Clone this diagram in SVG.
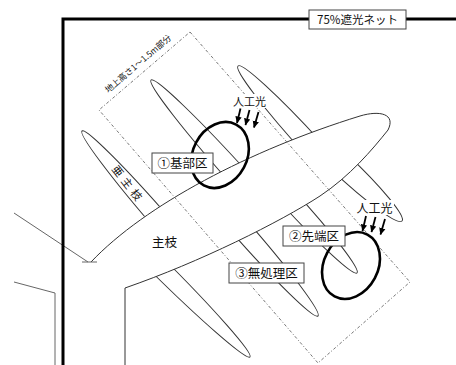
<svg xmlns="http://www.w3.org/2000/svg" width="456" height="365" viewBox="0 0 456 365">
  <defs>
    <marker id="ah" markerUnits="userSpaceOnUse" markerWidth="7" markerHeight="7" refX="6.5" refY="3.5" orient="auto">
      <path d="M0,0.3 L7,3.5 L0,6.7 z" fill="#000"/>
    </marker>
  </defs>
  <style>
    .twig{fill:none;stroke:#333;stroke-width:1}
    .edge{fill:none;stroke:#333;stroke-width:1}
    .thin{fill:none;stroke:#666;stroke-width:1}
    .zone{fill:none;stroke:#666;stroke-width:0.9;stroke-dasharray:3 2 1 2}
    .ring{fill:none;stroke:#000;stroke-width:2.6}
    .box{fill:#fff;stroke:#444;stroke-width:1}
    .bg{fill:#fff}
    .t{font-family:"Noto Sans CJK JP","Noto Sans",sans-serif;fill:#111}
    .ray{stroke:#000;stroke-width:1.8;marker-end:url(#ah)}
  </style>

  <!-- lateral shoots (half-ellipses, base hidden under the main limb) -->
  <g id="shoots">
    <g id="shoot-sub-main" transform="translate(82,131) rotate(49)"><path class="twig" d="M125,-9 A125,9 0 0 0 0,0 A125,9 0 0 0 125,9"/></g>
    <g id="shoot-u2" transform="translate(151,80) rotate(48)"><path class="twig" d="M140,-10 A140,10 0 0 0 0,0 A140,10 0 0 0 140,10"/></g>
    <g id="shoot-u3" transform="translate(238,66) rotate(47.6)"><path class="twig" d="M112,-10 A112,10 0 0 0 0,0 A112,10 0 0 0 112,10"/></g>
    <g id="shoot-l1" transform="translate(250,357) rotate(224.8)"><path class="twig" d="M135,-9 A135,9 0 0 0 0,0 A135,9 0 0 0 135,9"/></g>
    <g id="shoot-l2" transform="translate(318,316) rotate(228.7)"><path class="twig" d="M122,-9.5 A122,9.5 0 0 0 0,0 A122,9.5 0 0 0 122,9.5"/></g>
    <g id="shoot-l3" transform="translate(357,273) rotate(227.6)"><path class="twig" d="M102,-9 A102,9 0 0 0 0,0 A102,9 0 0 0 102,9"/></g>
    <g id="shoot-l4" transform="translate(402,221) rotate(223.3)"><path class="twig" d="M86,-11 A86,11 0 0 0 0,0 A86,11 0 0 0 86,11"/></g>
  </g>

  <!-- main limb with trunk and left limb -->
  <g id="main-limb">
    <path fill="#fff" d="M90,262 C145,205 250,150 360,116 C380,110 396,114 388,130 C372,150 350,176 320,196 C280,222 200,262 125,288 L125,365 L55,365 L55,293 L14,282 L14,213 Z"/>
    <path class="edge" d="M91,262 C145,205 250,150 360,116 C380,110 396,114 388,130 C372,150 350,176 320,196 C280,222 200,262 125,288 V365"/>
    <path class="thin" d="M14,213 L88,262"/>
    <path class="thin" d="M82,262 H97" stroke="#888"/>
    <path class="thin" d="M14,282 L55,293 V365"/>
  </g>

  <!-- 1.0-1.5 m height band -->
  <g id="zone">
    <path class="zone" d="M190,32 L410,282 L318,363 L99,110 Z"/>
    <text class="t" font-size="8.5" text-anchor="middle" transform="translate(140,66) rotate(-40.6)">地上高さ1～1.5m部分</text>
  </g>

  <!-- shade-net frame -->
  <g id="frame">
    <path d="M63,365 V19 H456" fill="none" stroke="#000" stroke-width="3"/>
  </g>
  <g id="net-label">
    <rect class="box" x="309" y="10" width="97" height="19"/>
    <text class="t" x="357.5" y="24" font-size="11.5" text-anchor="middle">75%遮光ネット</text>
  </g>

  <!-- lit zones -->
  <g id="ring-base"><ellipse class="ring" cx="220" cy="155" rx="27" ry="34.5" transform="rotate(28 220 155)"/></g>
  <g id="ring-tip"><ellipse class="ring" cx="351" cy="265.5" rx="27" ry="35" transform="rotate(28 351 265.5)"/></g>

  <!-- labels -->
  <g id="label-base">
    <rect class="box" x="152" y="153" width="61" height="20"/>
    <text class="t" x="182.5" y="168" font-size="12.5" text-anchor="middle">①基部区</text>
  </g>
  <g id="label-tip">
    <rect class="box" x="283" y="226" width="62" height="20"/>
    <text class="t" x="314" y="241" font-size="12.5" text-anchor="middle">②先端区</text>
  </g>
  <g id="label-control">
    <rect class="box" x="229" y="263" width="75" height="20"/>
    <text class="t" x="266.5" y="278" font-size="12.5" text-anchor="middle">③無処理区</text>
  </g>
  <g id="label-main">
    <text class="t" x="164.5" y="247" font-size="12.5" text-anchor="middle">主枝</text>
  </g>
  <g id="label-sub-main">
    <text class="t" font-size="11" letter-spacing="4" text-anchor="middle" transform="translate(127,183) rotate(52) translate(2,4)">亜主枝</text>
  </g>

  <g id="light-1">
    <rect class="bg" x="231" y="94" width="37" height="14"/>
    <text class="t" x="249.5" y="105.5" font-size="11" text-anchor="middle">人工光</text>
  </g>
  <g id="light-2">
    <rect class="bg" x="355" y="200" width="39" height="15"/>
    <text class="t" x="374.5" y="213" font-size="12" text-anchor="middle">人工光</text>
  </g>

  <!-- light rays -->
  <g id="connectors">
    <line class="ray" x1="240.5" y1="108.5" x2="237" y2="123"/>
    <line class="ray" x1="249.5" y1="110" x2="245.5" y2="125"/>
    <line class="ray" x1="258.5" y1="112" x2="254" y2="127.5"/>
    <line class="ray" x1="366" y1="216" x2="362.5" y2="231"/>
    <line class="ray" x1="375.5" y1="217" x2="371.5" y2="232"/>
    <line class="ray" x1="385" y1="219" x2="380.5" y2="234.5"/>
  </g>
</svg>
